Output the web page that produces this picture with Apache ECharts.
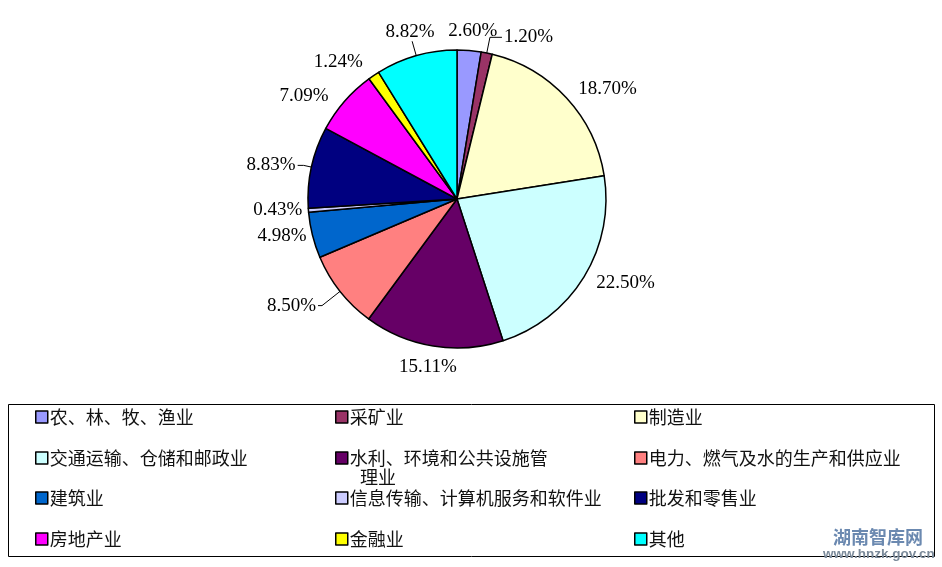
<!DOCTYPE html>
<html>
<head>
<meta charset="utf-8">
<script src="https://cdn.jsdelivr.net/npm/echarts@6/dist/echarts.min.js"></script>
<style>html,body{margin:0;padding:0;background:#fff}#c{width:942px;height:567px}</style>
</head>
<body>
<div id="c"></div>
<script>
var categories = ['农、林、牧、渔业','采矿业','制造业','交通运输、仓储和邮政业','水利、环境和公共设施管理业','电力、燃气及水的生产和供应业','建筑业','信息传输、计算机服务和软件业','批发和零售业','房地产业','金融业','其他'];
var values = [2.60, 1.20, 18.70, 22.50, 15.11, 8.50, 4.98, 0.43, 8.83, 7.09, 1.24, 8.82];
var colors = ['#9999FF','#993366','#FFFFCC','#CCFFFF','#660066','#FF8080','#0066CC','#CCCCFF','#000080','#FF00FF','#FFFF00','#00FFFF'];

// label styling (leader line shown?, line length, second segment length, centred text)
var leaderShown = [false, true, false, false, false, true, false, false, true, false, false, true];
var lineLen     = [20, 16, 13, 12, 21, 23, 4, 4, 8, 8, 16, 15];
var lineLen2    = [0, 12, 0, 0, 0, 4, 0, 0, 6, 8, 0, 0];
var centred     = [true, false, false, false, true, false, false, false, false, false, false, true];

var colLeft = [35, 335, 634];
var rowTop = [408, 449, 489, 530];

var data = categories.map(function (n, i) {
  return {
    name: n,
    value: values[i],
    itemStyle: { color: colors[i] },
    labelLine: { show: leaderShown[i], length: lineLen[i], length2: lineLen2[i] }
  };
});

var legends = categories.map(function (n, i) {
  var col = i % 3, row = Math.floor(i / 3);
  var twoLine = (n === '水利、环境和公共设施管理业');
  return {
    data: [n],
    left: colLeft[col],
    top: rowTop[row],
    icon: 'rect',
    itemWidth: 12,
    itemHeight: 12,
    selectedMode: false,
    padding: 0,
    itemStyle: { borderColor: '#000', borderWidth: 1.5 },
    formatter: twoLine ? function () { return '水利、环境和公共设施管'; } : '{name}',
    textStyle: {
      fontFamily: 'Noto Sans CJK SC',
      fontSize: 18,
      color: '#111',
      padding: [0, 0, 0, -3]
    }
  };
});

var chart = echarts.init(document.getElementById('c'));
chart.setOption({
  animation: false,
  backgroundColor: '#fff',
  legend: legends,
  graphic: [
    { type: 'rect', shape: { x: 8.5, y: 404.5, width: 926, height: 152 },
      style: { fill: 'none', stroke: '#000', lineWidth: 1 }, z: -1 },
    { type: 'text', left: 360, top: 468,
      style: { text: '理业', font: '18px "Noto Sans CJK SC"', fill: '#111' } },
    { type: 'text', left: 833, top: 528,
      style: { text: '湖南智库网', font: 'bold 18px "Noto Sans CJK SC"', fill: '#6b89b0' } },
    { type: 'text', left: 823, top: 547,
      style: { text: 'www.hnzk.gov.cn', font: 'bold 13.5px "Liberation Sans"', fill: '#7b8a9a' } }
  ],
  series: [{
    type: 'pie',
    center: [457, 199],
    radius: 149,
    startAngle: 90,
    clockwise: true,
    avoidLabelOverlap: false,
    data: data,
    itemStyle: { borderColor: '#000', borderWidth: 1.5 },
    label: {
      show: true,
      position: 'outside',
      formatter: function (p) { return p.value.toFixed(2) + '%'; },
      fontFamily: 'Liberation Serif',
      fontSize: 19,
      color: '#000',
      distanceToLabelLine: 2
    },
    labelLine: {
      show: true,
      lineStyle: { color: '#000', width: 1 }
    },
    labelLayout: function (p) {
      if (centred[p.dataIndex]) {
        return leaderShown[p.dataIndex] ? { align: 'center', verticalAlign: 'bottom' } : { align: 'center' };
      }
      return {};
    },
    emphasis: { disabled: true }
  }]
});
</script>
</body>
</html>
